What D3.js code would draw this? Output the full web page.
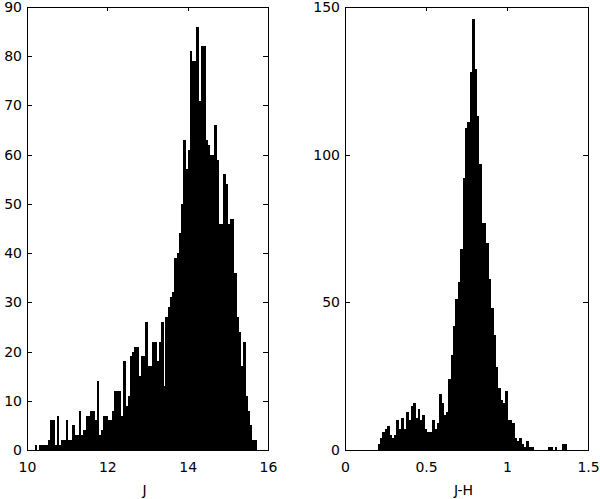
<!DOCTYPE html>
<html>
<head>
<meta charset="utf-8">
<script src="https://cdn.jsdelivr.net/npm/d3@7"></script>
<style>
  body { margin: 0; background: #fff; }
  text { font-family: "DejaVu Sans", sans-serif; font-size: 14px; fill: #000; }
</style>
</head>
<body>
<svg></svg>
<script>
// J histogram: 100 bins starting at 10.19, each 0.0552 wide
let jStart = 10.19
let jWidth = 0.0552
let jCounts = [1,0,1,1,1,1,2,6,6,1, 7,1,2,2,6,2,2,5,3,3,
               8,3,4,7,7,8,8,6,14,3, 4,7,7,6,6,8,12,12,12,7,
               18,9,11,19,20,21,21,15,19,19, 26,17,17,22,22,18,22,26,13,27,
               29,31,32,39,40,44,50,63,57,61, 81,79,79,86,71,82,82,63,62,60,
               60,66,59,46,46,56,54,46,47,47, 36,27,24,17,22,11,8,5,2,2]
let jXTicks = [10, 12, 14, 16]
let jYTicks = [0, 10, 20, 30, 40, 50, 60, 70, 80, 90]

// J-H histogram: bins start at 0.201, each 0.01457 wide
let jhStart = 0.201
let jhWidth = 0.01457
let jhCounts = [2,4,6,7,8,5,4,5,10,7, 11,7,13,10,15,16,11,14,10,12,
                7,6,6,10,7,9,19,16,12,13, 24,32,42,51,57,68,92,109,111,128,
                146,129,113,97,77,77,70,58,48,39, 28,21,17,16,20,10,10,9,4,3,
                4,2,1,3,1,1,0,0,0,0, 0,0,1,1,0,1,0,0,2,2]
let jhXTicks = [0, 0.5, 1, 1.5]
let jhYTicks = [0, 50, 100, 150]

let width = 600
let height = 499
let plotTop = 7
let plotBottom = 450

let svg = d3.select('svg')
    .attr('width', width)
    .attr('height', height)

let drawPanel = (left, right, xDomain, yDomain, start, binW, counts, xTicks, yTicks, label) => {
    let xScale = d3.scaleLinear().domain(xDomain).range([left, right])
    let yScale = d3.scaleLinear().domain(yDomain).range([plotBottom, plotTop])

    let g = svg.append('g')

    g.selectAll('rect.bar')
        .data(counts)
        .enter()
        .append('rect')
        .attr('class', 'bar')
        .attr('x', (d, i) => xScale(start + i * binW))
        .attr('width', (d, i) => xScale(start + (i + 1) * binW) - xScale(start + i * binW) + 0.3)
        .attr('y', (d) => yScale(d))
        .attr('height', (d) => yScale(0) - yScale(d))
        .attr('fill', '#000')
        .attr('shape-rendering', 'crispEdges')

    // box
    g.append('rect')
        .attr('x', left)
        .attr('y', plotTop)
        .attr('width', right - left)
        .attr('height', plotBottom - plotTop)
        .attr('fill', 'none')
        .attr('stroke', '#000')
        .attr('stroke-width', 1)
        .attr('shape-rendering', 'crispEdges')

    let fmt = (d) => String(d)

    g.append('g')
        .attr('transform', 'translate(' + left + ',0)')
        .call(d3.axisLeft(yScale).tickValues(yTicks).tickFormat(fmt).tickSize(-5).tickPadding(5))
    g.append('g')
        .attr('transform', 'translate(' + right + ',0)')
        .call(d3.axisRight(yScale).tickValues(yTicks).tickFormat('').tickSize(-5))
    g.append('g')
        .attr('transform', 'translate(0,' + plotBottom + ')')
        .call(d3.axisBottom(xScale).tickValues(xTicks).tickFormat(fmt).tickSize(-4).tickPadding(12))
    g.append('g')
        .attr('transform', 'translate(0,' + plotTop + ')')
        .call(d3.axisTop(xScale).tickValues(xTicks).tickFormat('').tickSize(-4))

    g.selectAll('.domain').remove()
    g.selectAll('.tick line').attr('stroke', '#000').attr('shape-rendering', 'crispEdges')
    g.selectAll('.tick text').style('font-family', '"DejaVu Sans", sans-serif').style('font-size', '14px').attr('fill', '#000')

    g.append('text')
        .attr('x', (left + right) / 2 - 3)
        .attr('y', 495)
        .attr('text-anchor', 'middle')
        .text(label)
}

drawPanel(27, 268, [10, 16], [0, 90], jStart, jWidth, jCounts, jXTicks, jYTicks, 'J')
drawPanel(345, 588, [0, 1.5], [0, 150], jhStart, jhWidth, jhCounts, jhXTicks, jhYTicks, 'J-H')
</script>
</body>
</html>
